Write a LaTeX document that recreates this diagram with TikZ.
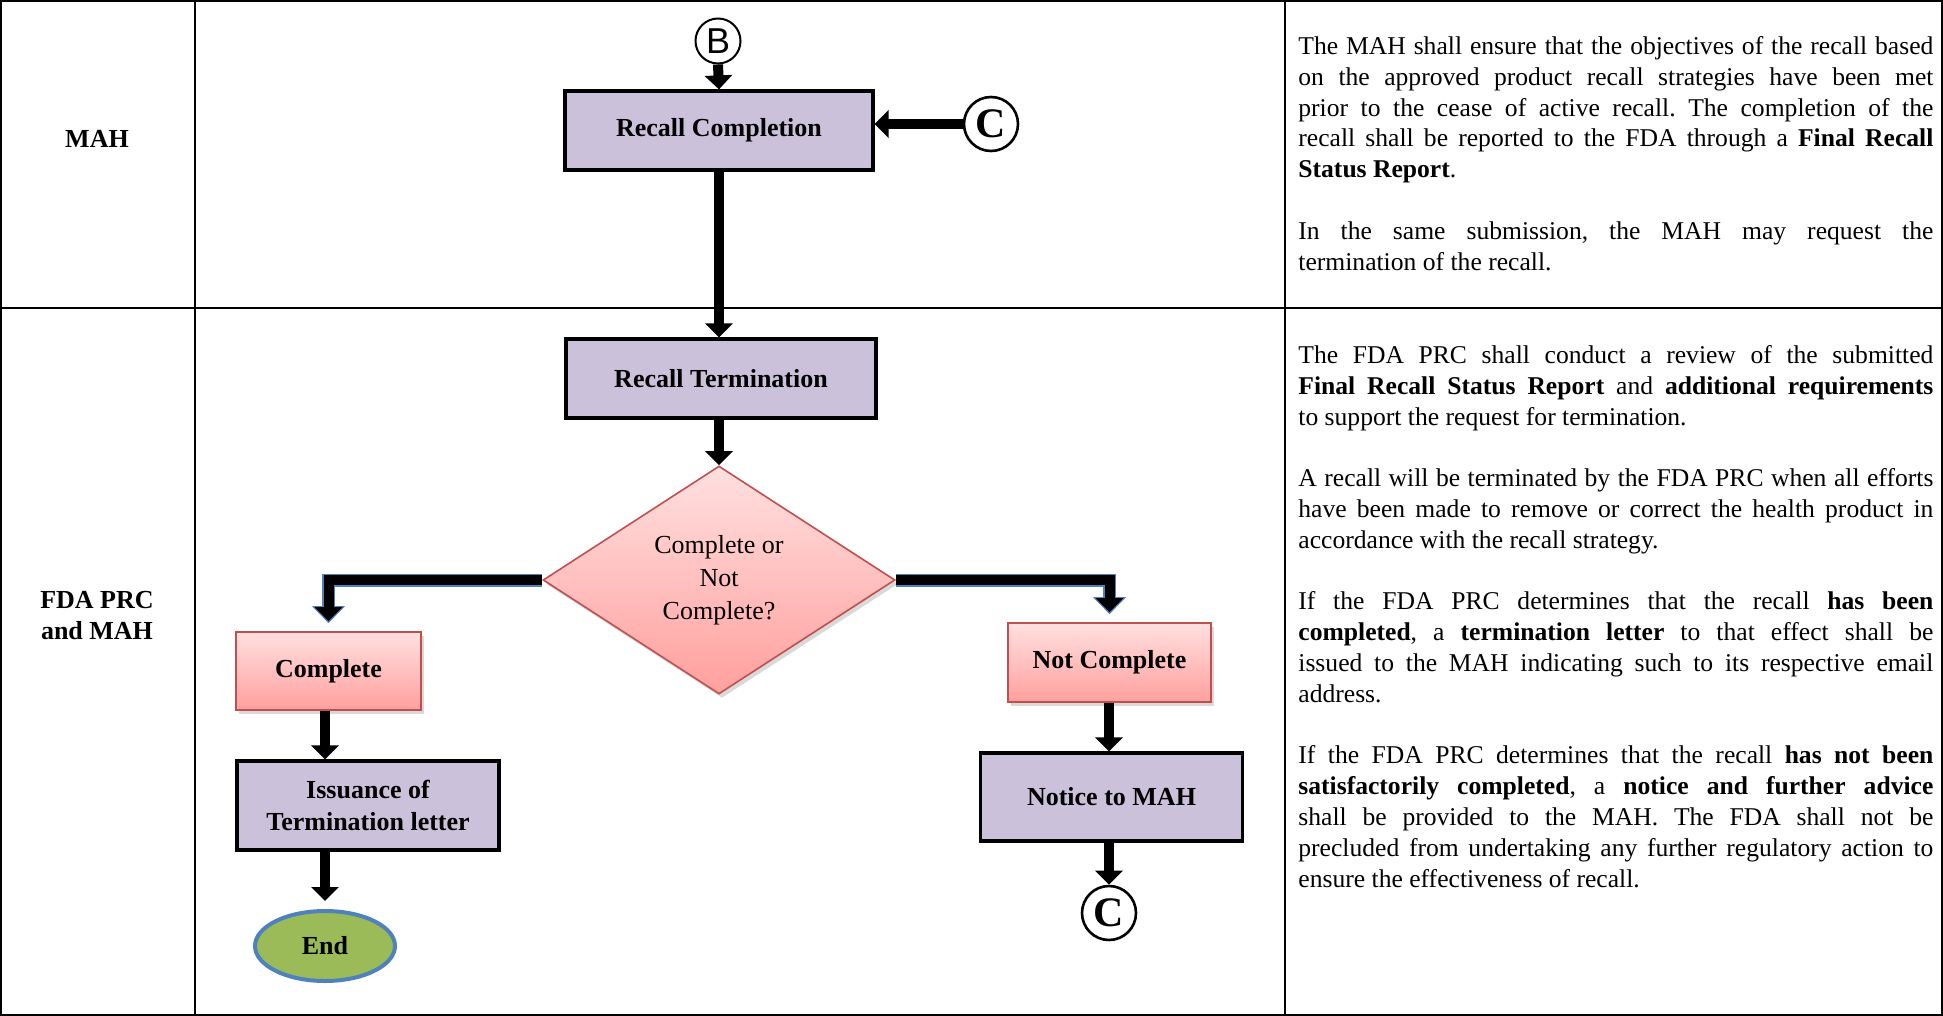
\documentclass[tikz,border=0pt]{standalone}
\usepackage{fontspec}
\setmainfont{Liberation Serif}
\newfontfamily\circfont{Liberation Sans}
\usetikzlibrary{arrows.meta,shapes.geometric,shadows,positioning}

\definecolor{lavfill}{RGB}{204,193,218}
\definecolor{pinktop}{RGB}{255,224,224}
\definecolor{pinkbot}{RGB}{255,160,158}
\definecolor{pinkline}{RGB}{192,80,77}
\definecolor{endgreen}{RGB}{155,187,89}
\definecolor{endblue}{RGB}{79,129,189}

\tikzset{
  lanetxt/.style={align=center, inner sep=0pt, font=\fontsize{13}{15.5}\selectfont\bfseries},
  notetxt/.style={anchor=north west, inner sep=0pt, text width=317.5pt, align=justify, font=\fontsize{12.8}{15.4}\selectfont},
  procbox/.style={draw=black, line width=1.6pt, fill=lavfill, align=center, inner sep=2pt, font=\fontsize{13}{16}\selectfont\bfseries},
  choicebox/.style={draw=pinkline, line width=0.8pt, top color=pinktop, bottom color=pinkbot, align=center,
    drop shadow={opacity=0.3, shadow xshift=1.5pt, shadow yshift=-2pt}, font=\fontsize{13}{16}\selectfont\bfseries},
  decbox/.style={diamond, draw=pinkline, line width=0.8pt, top color=pinktop, bottom color=pinkbot, align=center,
    inner sep=0pt, minimum width=176pt, minimum height=114pt,
    drop shadow={opacity=0.3, shadow xshift=1.5pt, shadow yshift=-2pt}, font=\fontsize{13}{16.5}\selectfont},
  endbox/.style={ellipse, draw=endblue, line width=2pt, fill=endgreen, minimum width=70pt, minimum height=35pt,
    font=\fontsize{13}{16}\selectfont\bfseries},
  conB/.style={circle, draw=black, line width=1pt, minimum size=22.5pt, inner sep=0pt, font=\circfont\fontsize{18}{18}\selectfont},
  conC/.style={circle, draw=black, line width=1.3pt, minimum size=27pt, inner sep=0pt, font=\fontsize{21}{21}\selectfont\bfseries},
  flow/.style={line width=5pt, -{Triangle[width=13.5pt,length=7pt]}},
  elbowout/.style={draw=endblue, line width=6.5pt, shorten >=4pt, -{Triangle[width=16pt,length=8.5pt]}},
  elbowin/.style={draw=black, line width=5pt, shorten >=5pt, -{Triangle[width=13.5pt,length=7pt]}}
}

\newcommand{\notesetup}{\parindent=0pt \frenchspacing \tolerance=9999 \spaceskip=3.2pt plus 3pt minus 1.4pt}

\begin{document}
\begin{tikzpicture}[x=0.5pt,y=0.5pt,yscale=-1,xscale=1]
\useasboundingbox (0,0) rectangle (1943,1016);

%Table lines
\draw [line width=1.2pt] (1,1) rectangle (1942,1015);
\draw [line width=1pt] (195,0) -- (195,1016);
\draw [line width=1pt] (1285,0) -- (1285,1016);
\draw [line width=1pt] (0,308) -- (1943,308);

% Text Node
\node (lanemah) [lanetxt] at (97,139) {MAH};
% Text Node
\node (lanefda) [lanetxt] at (97,616) {FDA PRC\\and MAH};

%Shape: Circle
\node (conb) [conB] at (718,41) {B};
\node (conctop) [conC] at (991,124) {C};
\node (concbot) [conC] at (1109,913) {C};

%Shape: Rectangle
\node (recomp) [procbox, minimum width=154pt, minimum height=39.5pt] at (719,130.5) {Recall Completion};
\node (recterm) [procbox, minimum width=155pt, minimum height=39.5pt] at (721,378.5) {Recall Termination};
\node (issue) [procbox, minimum width=131pt, minimum height=44.5pt] at (368,805.5) {Issuance of\\Termination letter};
\node (notice) [procbox, minimum width=131pt, minimum height=44pt] at (1111.5,797) {Notice to MAH};
\node (complete) [choicebox, minimum width=92.5pt, minimum height=39pt] at (328.5,671) {Complete};
\node (notcomp) [choicebox, minimum width=101.5pt, minimum height=39.5pt] at (1109.5,662.5) {Not Complete};

%Shape: Diamond
\node (decide) [decbox] at (719,580) {Complete or\\Not\\Complete?};

%Shape: Ellipse
\node (endnode) [endbox] at (325,946) {End};

%Straight Lines
\draw [flow] (conb.south) -- (recomp.north);
\draw [flow] (conctop.west) -- (conctop.west -| recomp.east);
\draw [flow] (recomp.south) -- (recomp.south |- recterm.north);
\draw [flow] (decide.north |- recterm.south) -- (decide.north);
\draw [elbowout] (decide.west) -| (complete.north);
\draw [elbowin] (decide.west) -| (complete.north);
\draw [elbowout] (decide.east) -| (notcomp.north);
\draw [elbowin] (decide.east) -| (notcomp.north);
\draw [flow] (endnode.north |- complete.south) -- (endnode.north |- issue.north);
\draw [flow, shorten >=4pt] (endnode.north |- issue.south) -- (endnode.north);
\draw [flow] (concbot.north |- notcomp.south) -- (concbot.north |- notice.north);
\draw [flow] (concbot.north |- notice.south) -- (concbot.north);

% Text Node
\node (mahnote) [notetxt] at (1298,36) {\notesetup
The MAH shall ensure that the objectives of the recall based\linebreak
on the approved product recall strategies have been met\linebreak
prior to the cease of active recall. The completion of the\linebreak
recall shall be reported to the FDA through a \textbf{Final Recall\linebreak
Status Report}.\par\vspace{15.4pt}
In the same submission, the MAH may request the\linebreak
termination of the recall.};

% Text Node
\node (fdanote) [notetxt] at (1298,345) {\notesetup
The FDA PRC shall conduct a review of the submitted\linebreak
\textbf{Final Recall Status Report} and \textbf{additional requirements}\linebreak
to support the request for termination.\par\vspace{15.4pt}
A recall will be terminated by the FDA PRC when all efforts\linebreak
have been made to remove or correct the health product in\linebreak
accordance with the recall strategy.\par\vspace{15.4pt}
If the FDA PRC determines that the recall \textbf{has been\linebreak
completed}, a \textbf{termination letter} to that effect shall be\linebreak
issued to the MAH indicating such to its respective email\linebreak
address.\par\vspace{15.4pt}
If the FDA PRC determines that the recall \textbf{has not been\linebreak
satisfactorily completed}, a \textbf{notice and further advice}\linebreak
shall be provided to the MAH. The FDA shall not be\linebreak
precluded from undertaking any further regulatory action to\linebreak
ensure the effectiveness of recall.};

\end{tikzpicture}
\end{document}
